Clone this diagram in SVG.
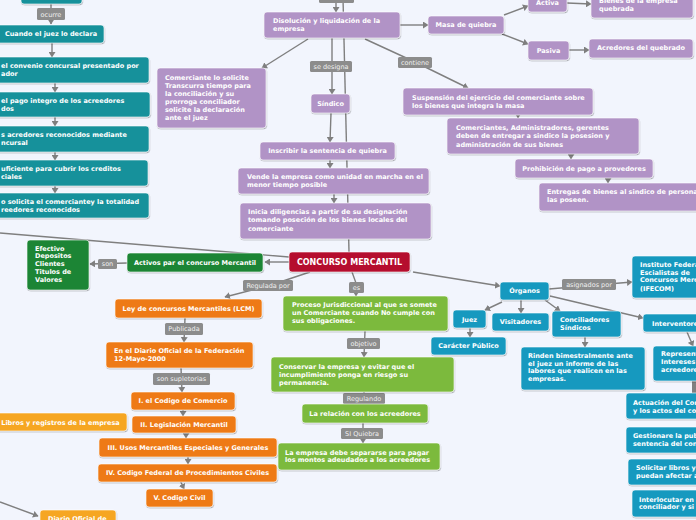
<svg xmlns="http://www.w3.org/2000/svg" width="696" height="520" viewBox="0 0 696 520">
<style>
.bg{fill:#f2f5fd}
.n{stroke:#ffffff;stroke-opacity:.75;stroke-width:.8;filter:url(#sh)}
.teal{fill:#16919b}.pur{fill:#b193c6}.red{fill:#b5112e}.dg{fill:#1c8535}
.or{fill:#ee7a12}.lo{fill:#f6a623}.lg{fill:#7cba3e}.bl{fill:#1799bf}
.t{font-family:"DejaVu Sans",Verdana,sans-serif;font-weight:bold;font-size:6.5px;fill:#ffffff}
.m{text-anchor:middle}
.big{font-size:8px}
.cn{fill:none;stroke:#7f7f7f;stroke-width:1.4}
.a{marker-end:url(#ah)}
.lab{fill:#8c8c8c}
.lt{font-family:"DejaVu Sans",Verdana,sans-serif;font-size:6.5px;fill:#f0f0f0;text-anchor:middle}
</style>
<defs>
<marker id="ah" markerUnits="userSpaceOnUse" markerWidth="6" markerHeight="7" refX="5" refY="3.5" orient="auto">
<path d="M0,0 L5.5,3.5 L0,7 z" fill="#7f7f7f"/>
</marker>
<filter id="sh" x="-10%" y="-10%" width="120%" height="140%">
<feDropShadow dx="0.5" dy="1" stdDeviation="0.5" flood-color="#000" flood-opacity="0.3"/>
</filter>
</defs>
<rect class="bg" x="0" y="0" width="696" height="520"/>

<g id="connectors">
<path class="cn a" d="M51,4 L51,24"/>
<path class="cn a" d="M52,43 L52,57"/>
<path class="cn a" d="M55,83 L55,92"/>
<path class="cn a" d="M55,117 L55,126"/>
<path class="cn a" d="M55,152 L55,160"/>
<path class="cn a" d="M55,186 L55,193"/>
<path class="cn" d="M343,-2 L349,252"/>
<path class="cn a" d="M336,2 L336,12"/>
<path class="cn a" d="M308,39 L262,68"/>
<path class="cn a" d="M332,38 L332,94"/>
<path class="cn a" d="M365,39 L415,62 L468,88"/>
<path class="cn a" d="M400,25 L428,25"/>
<path class="cn a" d="M504,15 L528,6"/>
<path class="cn a" d="M502,34 L528,44"/>
<path class="cn a" d="M567,3 L591,4"/>
<path class="cn a" d="M569,50 L589,50"/>
<path class="cn a" d="M331,113 L330,142"/>
<path class="cn a" d="M330,160 L330,168"/>
<path class="cn a" d="M334,194 L334,203"/>
<path class="cn a" d="M518,113 L518,118"/>
<path class="cn a" d="M571,152 L571,159"/>
<path class="cn a" d="M608,176 L608,183"/>
<path class="cn" d="M0,233 L289,257"/>
<path class="cn a" d="M289,262 L265,262"/>
<path class="cn a" d="M127,263 L90,264"/>
<path class="cn a" d="M310,272 L268,286 L225,297"/>
<path class="cn a" d="M185,318 L184,342"/>
<path class="cn a" d="M181,368 L182,392"/>
<path class="cn a" d="M183,408 L183,416"/>
<path class="cn a" d="M186,431 L186,438"/>
<path class="cn a" d="M188,455 L188,464"/>
<path class="cn a" d="M180,480 L184,489"/>
<path class="cn a" d="M0,502 L38,516"/>
<path class="cn a" d="M352,272 L356,283 L356,296"/>
<path class="cn a" d="M365,331 L364,357"/>
<path class="cn a" d="M364,392 L364,404"/>
<path class="cn a" d="M363,423 L363,443"/>
<path class="cn a" d="M413,272 L500,286"/>
<path class="cn a" d="M549,289 L632,282"/>
<path class="cn a" d="M502,302 L485,310"/>
<path class="cn a" d="M521,299 L521,313"/>
<path class="cn a" d="M545,300 L560,311"/>
<path class="cn a" d="M550,296 L643,318"/>
<path class="cn a" d="M470,328 L470,337"/>
<path class="cn a" d="M585,337 L585,347"/>
<path class="cn a" d="M687,332 L693,346"/>
<path d="M694,380 L694,393" stroke="#808080" stroke-width="4" fill="none"/>

<rect class="lab" x="37" y="8" width="28" height="12" rx="1.5"/><text class="lt" x="51" y="16.5">ocurre</text>
<rect class="lab" x="319" y="-8" width="35" height="11" rx="1.5"/>
<rect class="lab" x="310" y="61" width="42" height="11" rx="1.5"/><text class="lt" x="331" y="68.8">se designa</text>
<rect class="lab" x="398" y="57" width="34" height="11" rx="1.5"/><text class="lt" x="415" y="64.8">contiene</text>
<rect class="lab" x="98" y="259" width="19" height="10" rx="1.5"/><text class="lt" x="107.5" y="266.3">son</text>
<rect class="lab" x="243" y="280" width="50" height="11" rx="1.5"/><text class="lt" x="268" y="287.8">Regulada por</text>
<rect class="lab" x="165" y="323" width="38" height="12" rx="1.5"/><text class="lt" x="184" y="331.3">Publicada</text>
<rect class="lab" x="153" y="373" width="57" height="12" rx="1.5"/><text class="lt" x="181.5" y="381.3">son supletorias</text>
<rect class="lab" x="349" y="282" width="15" height="11" rx="1.5"/><text class="lt" x="356.5" y="289.8">es</text>
<rect class="lab" x="347" y="338" width="33" height="11" rx="1.5"/><text class="lt" x="363.5" y="345.8">objetivo</text>
<rect class="lab" x="343" y="393" width="42" height="11" rx="1.5"/><text class="lt" x="364" y="400.8">Regulando</text>
<rect class="lab" x="341" y="428" width="42" height="11" rx="1.5"/><text class="lt" x="362" y="435.8">SI Quiebra</text>
<rect class="lab" x="562" y="279" width="54" height="11" rx="1.5"/><text class="lt" x="589" y="286.8">asignados por</text>
</g>

<g id="n-top"><rect class="n teal" x="21" y="-20" width="61" height="24" rx="3"/></g>
<g id="n-cuando"><rect class="n teal" x="-5" y="25" width="109" height="18" rx="3"/><text class="t m" x="51" y="36.3">Cuando el juez lo declara</text></g>
<g id="n-convenio"><rect class="n teal" x="-60" y="57" width="209" height="26" rx="3"/><text class="t"><tspan x="1" y="68">el convenio concursal presentado por</tspan><tspan x="1" y="76">ador</tspan></text></g>
<g id="n-pago"><rect class="n teal" x="-60" y="92" width="210" height="25" rx="3"/><text class="t"><tspan x="1" y="102.5">el pago integro de los acreedores</tspan><tspan x="1" y="110.7">dos</tspan></text></g>
<g id="n-acredores"><rect class="n teal" x="-60" y="126" width="209" height="26" rx="3"/><text class="t"><tspan x="1" y="136.7">s acredores reconocidos mediante</tspan><tspan x="1" y="145">ncursal</tspan></text></g>
<g id="n-suficiente"><rect class="n teal" x="-60" y="160" width="208" height="26" rx="3"/><text class="t"><tspan x="1" y="170.7">uficiente para cubrir los creditos</tspan><tspan x="1" y="179">ciales</tspan></text></g>
<g id="n-solicita"><rect class="n teal" x="-60" y="193" width="209" height="25" rx="3"/><text class="t"><tspan x="1" y="204">o solicita el comerciantey la totalidad</tspan><tspan x="1" y="211.7">reedores reconocidos</tspan></text></g>

<g id="n-comerciante"><rect class="n pur" x="157" y="68" width="109" height="60" rx="3"/><text class="t"><tspan x="165" y="80">Comerciante lo solicite</tspan><tspan x="165" y="88">Transcurra tiempo para</tspan><tspan x="165" y="95.8">la conciliación y su</tspan><tspan x="165" y="103.7">prorroga conciliador</tspan><tspan x="165" y="111.7">solicite la declaración</tspan><tspan x="165" y="119.7">ante el juez</tspan></text></g>
<g id="n-disolucion"><rect class="n pur" x="264" y="12" width="136" height="26" rx="3"/><text class="t"><tspan x="273" y="22.5">Disolución y liquidación de la</tspan><tspan x="273" y="31">empresa</tspan></text></g>
<g id="n-sindico"><rect class="n pur" x="311" y="94" width="39" height="19" rx="3"/><text class="t m" x="330.5" y="105.8">Síndico</text></g>
<g id="n-inscribir"><rect class="n pur" x="260" y="142" width="135" height="18" rx="3"/><text class="t m" x="327.5" y="153">Inscribir la sentencia de quiebra</text></g>
<g id="n-vende"><rect class="n pur" x="238" y="168" width="191" height="26" rx="3"/><text class="t"><tspan x="247" y="179">Vende la empresa como unidad en marcha en el</tspan><tspan x="247" y="187.3">menor tiempo posible</tspan></text></g>
<g id="n-inicia"><rect class="n pur" x="240" y="203" width="191" height="36" rx="3"/><text class="t"><tspan x="248" y="214">Inicia diligencias a partir de su designación</tspan><tspan x="248" y="222.3">tomando poseción de los bienes locales del</tspan><tspan x="248" y="230.6">comerciante</tspan></text></g>
<g id="n-masa"><rect class="n pur" x="428" y="16" width="76" height="18" rx="3"/><text class="t m" x="466" y="26.8">Masa de quiebra</text></g>
<g id="n-activa"><rect class="n pur" x="528" y="-6" width="39" height="18" rx="3"/><text class="t m" x="547.5" y="5">Activa</text></g>
<g id="n-bienes"><rect class="n pur" x="591" y="-8" width="102" height="26" rx="3"/><text class="t"><tspan x="599" y="3">Bienes de la empresa</tspan><tspan x="599" y="11.3">quebrada</tspan></text></g>
<g id="n-pasiva"><rect class="n pur" x="528" y="41" width="41" height="19" rx="3"/><text class="t m" x="548.5" y="53">Pasiva</text></g>
<g id="n-acreedores-q"><rect class="n pur" x="589" y="39" width="104" height="19" rx="3"/><text class="t m" x="641" y="50">Acredores del quebrado</text></g>
<g id="n-suspension"><rect class="n pur" x="403" y="88" width="190" height="27" rx="3"/><text class="t"><tspan x="412" y="100">Suspensión del ejercicio del comerciante sobre</tspan><tspan x="412" y="108.3">los bienes que integra la masa</tspan></text></g>
<g id="n-comerciantes"><rect class="n pur" x="447" y="118" width="192" height="36" rx="3"/><text class="t"><tspan x="456" y="130">Comerciantes, Administradores, gerentes</tspan><tspan x="456" y="138.2">deben de entregar a sindico la posesion y</tspan><tspan x="456" y="146.5">administración de sus bienes</tspan></text></g>
<g id="n-prohibicion"><rect class="n pur" x="515" y="159" width="138" height="19" rx="3"/><text class="t m" x="584" y="170.7">Prohibición de pago a provedores</text></g>
<g id="n-entregas"><rect class="n pur" x="539" y="183" width="170" height="28" rx="3"/><text class="t"><tspan x="547" y="194">Entregas de bienes al sindico de personas</tspan><tspan x="547" y="202">las poseen.</tspan></text></g>

<g id="n-concurso"><rect class="n red" x="289" y="252" width="121" height="20" rx="3"/><text class="t m big" x="349.5" y="265.2">CONCURSO MERCANTIL</text></g>

<g id="n-activos"><rect class="n dg" x="127" y="253" width="136" height="19" rx="3"/><text class="t m" x="195" y="264.8">Activos par el concurso Mercantil</text></g>
<g id="n-efectivo"><rect class="n dg" x="27" y="240" width="62" height="50" rx="3"/><text class="t"><tspan x="35" y="250.6">Efectivo</tspan><tspan x="35" y="258.4">Depositos</tspan><tspan x="35" y="266.3">Clientes</tspan><tspan x="35" y="274.3">Titulos de</tspan><tspan x="35" y="282.3">Valores</tspan></text></g>

<g id="n-lcm"><rect class="n or" x="115" y="299" width="147" height="19" rx="3"/><text class="t m" x="188.5" y="310.7">Ley de concursos Mercantiles (LCM)</text></g>
<g id="n-diario"><rect class="n or" x="106" y="342" width="147" height="26" rx="3"/><text class="t"><tspan x="114" y="353">En el Diario Oficial de la Federación</tspan><tspan x="114" y="360.7">12-Mayo-2000</tspan></text></g>
<g id="n-cod1"><rect class="n or" x="131" y="392" width="104" height="18" rx="3"/><text class="t m" x="183" y="403">I. el Codigo de Comercio</text></g>
<g id="n-cod2"><rect class="n or" x="132" y="416" width="104" height="17" rx="3"/><text class="t m" x="184" y="426.7">II. Legislación Mercantil</text></g>
<g id="n-cod3"><rect class="n or" x="99" y="438" width="178" height="19" rx="3"/><text class="t m" x="188" y="450">III. Usos Mercantiles Especiales y Generales</text></g>
<g id="n-cod4"><rect class="n or" x="98" y="464" width="179" height="18" rx="3"/><text class="t m" x="187.5" y="475">IV. Codigo Federal de Procedimientos Civiles</text></g>
<g id="n-cod5"><rect class="n or" x="146" y="489" width="67" height="18" rx="3"/><text class="t m" x="179.5" y="499.7">V. Codigo Civil</text></g>
<g id="n-libros"><rect class="n lo" x="-6" y="413" width="133" height="18" rx="3"/><text class="t m" x="60.5" y="425">Libros y registros de la empresa</text></g>
<g id="n-diario2"><rect class="n lo" x="40" y="510" width="76" height="25" rx="3"/><text class="t" x="48" y="520.6">Diario Oficial de</text></g>

<g id="n-proceso"><rect class="n lg" x="283" y="296" width="165" height="35" rx="3"/><text class="t"><tspan x="292" y="307.3">Proceso Jurisdiccional al que se somete</tspan><tspan x="292" y="315.3">un Comerciante cuando No cumple con</tspan><tspan x="292" y="323.3">sus obligaciones.</tspan></text></g>
<g id="n-conservar"><rect class="n lg" x="271" y="357" width="183" height="35" rx="3"/><text class="t"><tspan x="279" y="369">Conservar la empresa y evitar que el</tspan><tspan x="279" y="377.3">incumplimiento ponga en riesgo su</tspan><tspan x="279" y="385">permanencia.</tspan></text></g>
<g id="n-relacion"><rect class="n lg" x="302" y="404" width="126" height="19" rx="3"/><text class="t m" x="365" y="415.7">La relación con los acreedores</text></g>
<g id="n-separarse"><rect class="n lg" x="278" y="443" width="162" height="27" rx="3"/><text class="t"><tspan x="285" y="454.7">La empresa debe separarse para pagar</tspan><tspan x="285" y="462.4">los montos adeudados a los acreedores</tspan></text></g>

<g id="n-organos"><rect class="n bl" x="500" y="282" width="49" height="18" rx="3"/><text class="t m" x="524.5" y="292.5">Órganos</text></g>
<g id="n-ifecom"><rect class="n bl" x="632" y="256" width="80" height="42" rx="3"/><text class="t"><tspan x="640" y="267.3">Instituto Federa</tspan><tspan x="640" y="275">Escialistas de</tspan><tspan x="640" y="282.4">Concursos Merc</tspan><tspan x="640" y="290.6">(IFECOM)</tspan></text></g>
<g id="n-juez"><rect class="n bl" x="453" y="310" width="33" height="18" rx="3"/><text class="t m" x="469.5" y="322.3">Juez</text></g>
<g id="n-visitadores"><rect class="n bl" x="492" y="313" width="57" height="18" rx="3"/><text class="t m" x="520.5" y="324">Visitadores</text></g>
<g id="n-conciliadores"><rect class="n bl" x="552" y="311" width="69" height="26" rx="3"/><text class="t"><tspan x="560" y="321.7">Conciliadores</tspan><tspan x="560" y="329.7">Síndicos</tspan></text></g>
<g id="n-interventores"><rect class="n bl" x="643" y="314" width="70" height="18" rx="3"/><text class="t" x="652" y="325.7">Interventores</text></g>
<g id="n-caracter"><rect class="n bl" x="431" y="337" width="75" height="18" rx="3"/><text class="t m" x="468.5" y="348">Carácter Público</text></g>
<g id="n-rinden"><rect class="n bl" x="521" y="347" width="124" height="43" rx="3"/><text class="t"><tspan x="528" y="358.3">Rinden bimestralmente ante</tspan><tspan x="528" y="365.8">el juez un informe de las</tspan><tspan x="528" y="373.4">labores que realicen en las</tspan><tspan x="528" y="381.3">empresas.</tspan></text></g>
<g id="n-representar"><rect class="n bl" x="653" y="346" width="60" height="35" rx="3"/><text class="t"><tspan x="661" y="356.3">Representa</tspan><tspan x="661" y="364">Intereses</tspan><tspan x="661" y="371.7">acreedores</tspan></text></g>
<g id="n-actuacion"><rect class="n bl" x="626" y="393" width="80" height="26" rx="3"/><text class="t"><tspan x="633" y="405">Actuación del Con</tspan><tspan x="633" y="413">y los actos del co</tspan></text></g>
<g id="n-gestionare"><rect class="n bl" x="626" y="427" width="80" height="26" rx="3"/><text class="t"><tspan x="633" y="438">Gestionare la pub</tspan><tspan x="633" y="445.7">sentencia del con</tspan></text></g>
<g id="n-solicitar"><rect class="n bl" x="628" y="459" width="80" height="26" rx="3"/><text class="t"><tspan x="636" y="470">Solicitar libros y</tspan><tspan x="636" y="478">puedan afectar a</tspan></text></g>
<g id="n-interlocutar"><rect class="n bl" x="632" y="490" width="80" height="27" rx="3"/><text class="t"><tspan x="639" y="501.7">Interlocutar en</tspan><tspan x="639" y="509">conciliador y si</tspan></text></g>
</svg>
